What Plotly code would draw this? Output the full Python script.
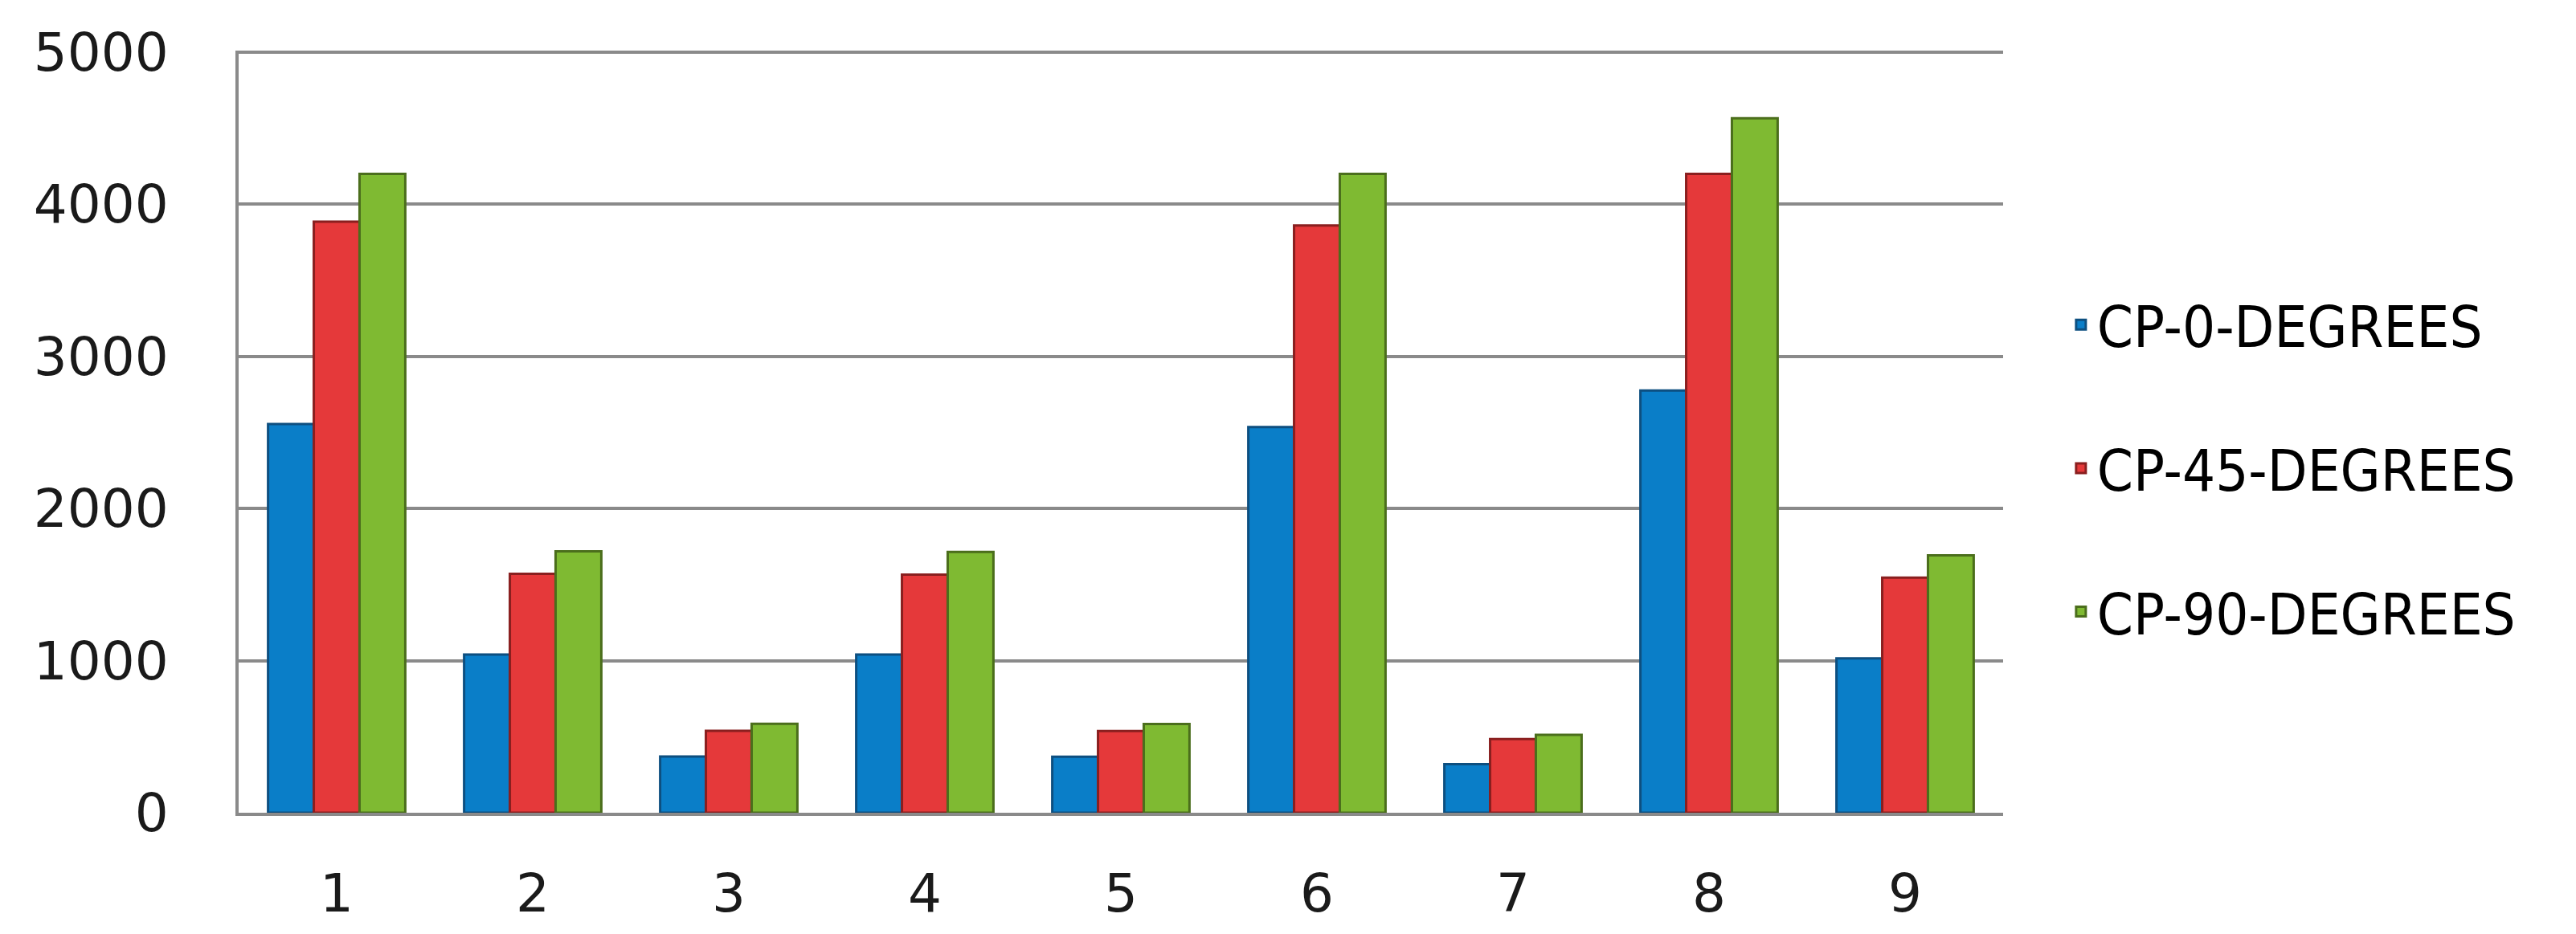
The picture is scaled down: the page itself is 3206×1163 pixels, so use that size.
import plotly.graph_objects as go

# categories and series values
categories = ['1', '2', '3', '4', '5', '6', '7', '8', '9']
series_names = ['CP-0-DEGREES', 'CP-45-DEGREES', 'CP-90-DEGREES']
cp_0 = [2555, 1040, 370, 1040, 368, 2535, 320, 2775, 1015]
cp_45 = [3885, 1570, 538, 1565, 537, 3860, 485, 4200, 1545]
cp_90 = [4200, 1718, 585, 1715, 584, 4200, 512, 4565, 1692]
y_ticks = [0, 1000, 2000, 3000, 4000, 5000]

# fill and outline colours per series
fills = ['#0a7ec8', '#e5393a', '#7fba32']
edges = ['#0d4f80', '#8a1f1f', '#4b6e1c']

fig = go.Figure()

for name, values, fill, edge in zip(series_names, [cp_0, cp_45, cp_90], fills, edges):
    fig.add_trace(
        go.Bar(
            x=categories,
            y=values,
            name=name,
            legendgroup=name,
            marker=dict(color=fill, line=dict(color=edge, width=3)),
        )
    )

# layout to match the original excel-style chart
fig.update_layout(
    width=3206,
    height=1163,
    margin=dict(l=289, r=721, t=55, b=159),
    paper_bgcolor='white',
    plot_bgcolor='white',
    barmode='group',
    bargap=0.3,
    bargroupgap=0,
    font=dict(family='DejaVu Sans', color='#1a1a1a'),
    legend=dict(
        x=1.035,
        y=0.452,
        xanchor='left',
        yanchor='middle',
        font=dict(family='Liberation Sans Narrow, DejaVu Sans Condensed, sans-serif', size=72, color='black'),
        tracegroupgap=82,
        bgcolor='rgba(0,0,0,0)',
    ),
    xaxis=dict(
        showline=True,
        linecolor='#8a8a8a',
        linewidth=4,
        showgrid=False,
        ticks='',
        tickfont=dict(size=66),
        ticklabelstandoff=40,
    ),
    yaxis=dict(
        range=[0, 5010],
        tickvals=y_ticks,
        showline=True,
        linecolor='#8a8a8a',
        linewidth=4,
        showgrid=True,
        gridcolor='#8a8a8a',
        gridwidth=4,
        zeroline=False,
        ticks='',
        tickfont=dict(size=66),
        ticklabelstandoff=70,
    ),
)

fig.write_html('out.html')
